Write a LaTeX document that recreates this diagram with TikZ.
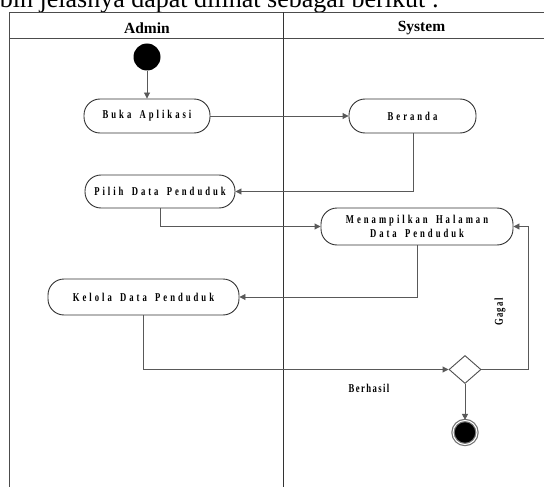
\documentclass[tikz,border=0pt]{standalone}
\usepackage{fontspec}
\setmainfont{Liberation Serif}
\usetikzlibrary{shapes.geometric,arrows.meta}
\newfontfamily\actfont[LetterSpace=25,WordSpace=1.6,FakeStretch=0.72]{Liberation Serif}
\newfontfamily\lblfont[LetterSpace=12,FakeStretch=0.72]{Liberation Serif}
\tikzset{
  line/.style={draw=black!65, line width=0.9pt},
  arr/.style={line, -{Triangle[length=6pt,width=6pt]}},
  act/.style={draw=black!80, line width=0.9pt, rounded corners=16pt, minimum height=34pt, align=center, font=\actfont\bfseries\fontsize{12}{14}\selectfont, inner sep=1pt},
  hdr/.style={font=\bfseries\fontsize{15.5}{17}\selectfont},
  lbl/.style={font=\lblfont\bfseries\fontsize{12}{14}\selectfont, inner sep=1pt},
}
\begin{document}
\begin{tikzpicture}[x=1pt,y=-1pt]
\useasboundingbox (0,0) rectangle (544,487);
\clip (0,0) rectangle (544,487);
% top clipped text
\node[anchor=base west, inner sep=0, font=\fontsize{26}{29}\selectfont] (toptext) at (-19,8) {lebih jelasnya dapat dilihat sebagai berikut :};
% swimlanes
\draw[black!70, line width=1.6pt] (9.5,500) -- (9.5,12.5) -- (560,12.5);
\draw[black!70, line width=1.6pt] (9.5,38.5) -- (560,38.5);
\draw[black!80, line width=1.8pt] (283.5,12.5) -- (283.5,500);
\node[hdr] (hadmin) at (147,28) {Admin};
\node[hdr] (hsys) at (421.5,28) {System};
% nodes
\node[circle, fill=black, minimum size=27pt, inner sep=0] (start) at (147,57) {};
\node[act, minimum width=126pt] (buka) at (147,116) {Buka Aplikasi};
\node[act, minimum width=127pt] (beranda) at (412.5,116) {Beranda};
\node[act, minimum width=150pt, minimum height=33pt] (pilih) at (160,191.5) {Pilih Data Penduduk};
\node[act, minimum width=192pt, minimum height=37pt] (tampil) at (417,226.5) {Menampilkan Halaman\\Data Penduduk};
\node[act, minimum width=191pt, minimum height=36pt] (kelola) at (143.5,297) {Kelola Data Penduduk};
\node[diamond, draw=black!70, line width=0.9pt, minimum width=32pt, minimum height=28pt, inner sep=0] (dec) at (465,369.5) {};
\node[circle, draw=black!55, line width=1.2pt, fill=black, minimum size=24pt, inner sep=0, double=white, double distance=1pt] (end) at (465,432.5) {};
\coordinate (c1) at (413,191.5);
\coordinate (c2) at (160,226.5);
\coordinate (c3) at (417,297);
\coordinate (c4) at (143.5,369.5);
\coordinate (c5) at (528,369.5);
\coordinate (c6) at (528,226.5);
% edges
\draw[arr] (start) -- (start|-buka.north);
\draw[arr] (buka) -- (beranda);
\draw[arr] (beranda.south -| c1) -- (c1) -- (pilih.east);
\draw[arr] (pilih.south -| c2) -- (c2) -- (tampil.west);
\draw[arr] (tampil.south -| c3) -- (c3) -- (kelola.east);
\draw[arr] (kelola.south -| c4) -- (c4) -- (dec.west);
\draw[arr] (dec.east) -- (c5) -- (c6) -- (tampil.east);
\draw[arr] (dec.south) -- (end);
\node[lbl, rotate=90] (gagal) at (500,312) {Gagal};
\node[lbl] (berhasil) at (369,388) {Berhasil};
\end{tikzpicture}
\end{document}
